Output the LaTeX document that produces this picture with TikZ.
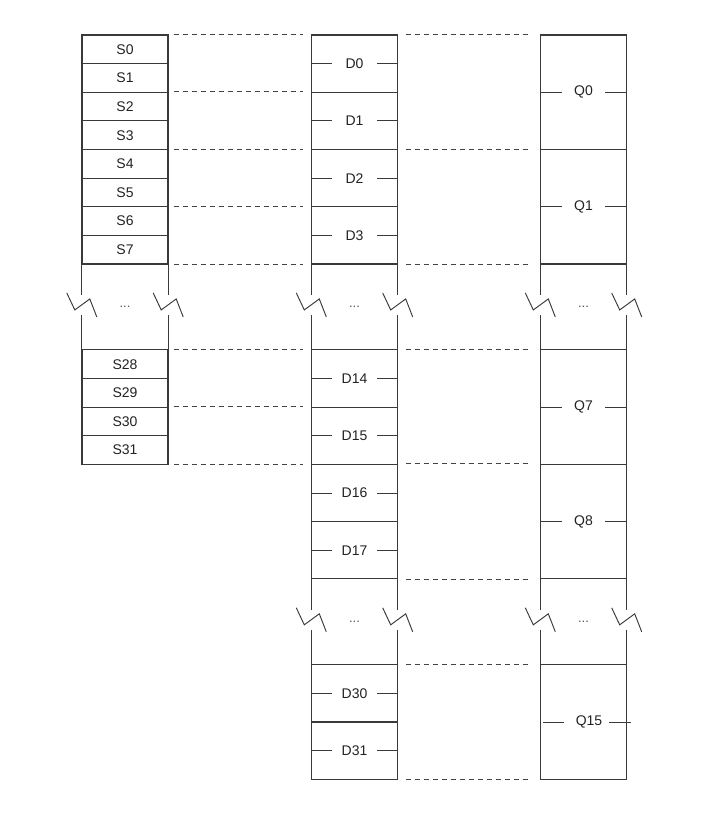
\documentclass[tikz,border=0pt]{standalone}
\usepackage{fontspec}
\setmainfont{Liberation Sans}
\definecolor{linec}{HTML}{3A3A3A}
\definecolor{textc}{HTML}{222222}
\definecolor{dashc}{HTML}{444444}
\definecolor{dotc}{HTML}{555555}
\begin{document}
\begin{tikzpicture}[x=1pt,y=-1pt,
  boxline/.style={draw=linec, line width=1.05pt},
  cell/.style={boxline, rectangle, minimum width=86pt, inner sep=0pt, text=textc, font=\fontsize{14}{14}\selectfont},
  scell/.style={cell, minimum height=28.625pt},
  dcell/.style={cell, minimum height=57.25pt},
  qcell/.style={cell, minimum height=114.5pt},
  gapbox/.style={rectangle, minimum width=86pt, minimum height=85.875pt, inner sep=0pt, text=dotc, font=\fontsize{13}{13}\selectfont},
  lbl/.style={inner sep=0pt, text=textc, font=\fontsize{14}{14}\selectfont},
  link/.style={draw=dashc, line width=0.9pt, dash pattern=on 5.5pt off 3.5pt},
  sdlink/.style={link, shorten <=5pt, shorten >=8pt},
  dqlink/.style={link, shorten <=7.5pt, shorten >=8.5pt},
  stub/.style={draw=linec, line width=0.9pt},
  zig/.style={draw=linec, line width=0.95pt},
]
\def\u{28.625}
\useasboundingbox (0,0) rectangle (715,820);

% S column
\foreach \i in {0,...,7}
  \node[scell] (s\i) at (125,{35+(\i+0.5)*\u}) {S\i};
\foreach \i in {28,...,31}
  \node[scell] (s\i) at (125,{35+(\i-17+0.5)*\u}) {S\i};
\node[gapbox] (sg1) at (125,{35+9.5*\u}) {...};

% D column
\foreach \i in {0,...,3}
  \node[dcell] (d\i) at (354.5,{35+(2*\i+1)*\u}) {D\i};
\foreach \i in {14,...,17}
  \node[dcell] (d\i) at (354.5,{35+(2*\i-16)*\u}) {D\i};
\foreach \i in {30,31}
  \node[dcell] (d\i) at (354.5,{35+(2*\i-37)*\u}) {D\i};
\node[gapbox] (dg1) at (354.5,{35+9.5*\u}) {...};
\node[gapbox] (dg2) at (354.5,{35+20.5*\u}) {...};

% Q column
\node[qcell] (q0) at (583.5,{35+2*\u}) {Q0};
\node[qcell] (q1) at (583.5,{35+6*\u}) {Q1};
\node[qcell] (q7) at (583.5,{35+13*\u}) {Q7};
\node[qcell] (q8) at (583.5,{35+17*\u}) {Q8};
\node[qcell] (q15) at (583.5,{35+24*\u}) {};
\node[lbl] (q15t) at ([xshift=5.5pt]q15.center) {Q15};
\node[gapbox] (qg1) at (583.5,{35+9.5*\u}) {...};
\node[gapbox] (qg2) at (583.5,{35+20.5*\u}) {...};

% broken sides of the gap sections
\foreach \g in {sg1,dg1,dg2,qg1,qg2} {
  \foreach \s in {west,east} {
    \draw[boxline] (\g.north \s) -- ([yshift=12pt]\g.\s);
    \draw[boxline] ([yshift=-8pt]\g.\s) -- (\g.south \s);
    \draw[zig] ([yshift=2pt]\g.\s) ++(-15,-12) -- ++(8,17) -- ++(15,-11) -- ++(7,18);
  }
}

% pin stubs
\foreach \n in {d0,d1,d2,d3,d14,d15,d16,d17,d30,d31} {
  \draw[stub] (\n.west) -- ++(21.5,0);
  \draw[stub] (\n.east) -- ++(-21.5,0);
}
\foreach \n in {q0,q1,q7,q8} {
  \draw[stub] (\n.west) -- ++(22.5,0);
  \draw[stub] (\n.east) -- ++(-22.5,0);
}
\draw[stub] ([xshift=3.5pt]q15.west) -- ++(21,0);
\draw[stub] ([xshift=3.5pt]q15.east) -- ++(-22,0);

% dashed correspondences S -- D
\draw[sdlink] (s0.north east) -- (d0.north west);
\draw[sdlink] (s2.north east) -- (d1.north west);
\draw[sdlink] (s4.north east) -- (d2.north west);
\draw[sdlink] (s6.north east) -- (d3.north west);
\draw[sdlink] (s7.south east) -- (d3.south west);
\draw[sdlink] (s28.north east) -- (d14.north west);
\draw[sdlink] (s30.north east) -- (d15.north west);
\draw[sdlink] (s31.south east) -- (d15.south west);

% dashed correspondences D -- Q
\draw[dqlink] (d0.north east) -- (q0.north west);
\draw[dqlink] (d2.north east) -- (q1.north west);
\draw[dqlink] (d3.south east) -- (q1.south west);
\draw[dqlink] (d14.north east) -- (q7.north west);
\draw[dqlink] (d16.north east) -- (q8.north west);
\draw[dqlink] (d17.south east) -- (q8.south west);
\draw[dqlink] (d30.north east) -- (q15.north west);
\draw[dqlink] (d31.south east) -- (q15.south west);
\end{tikzpicture}
\end{document}
